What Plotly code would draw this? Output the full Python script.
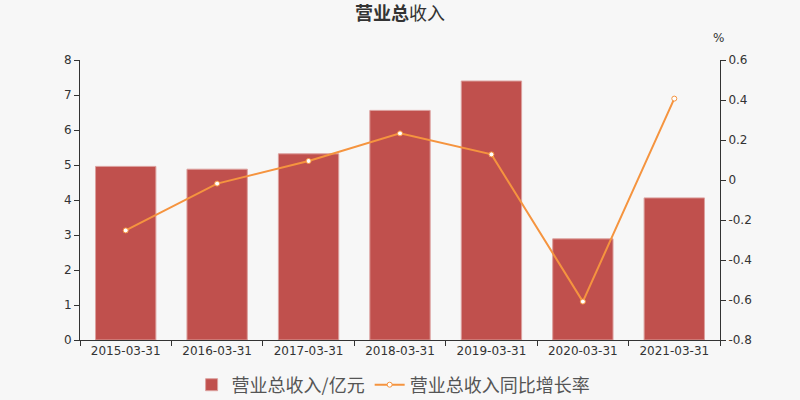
import plotly.graph_objects as go

categories = ["2015-03-31", "2016-03-31", "2017-03-31", "2018-03-31", "2019-03-31", "2020-03-31", "2021-03-31"]
revenue = [4.96, 4.88, 5.32, 6.56, 7.40, 2.89, 4.06]
growth = [-0.252, -0.018, 0.095, 0.233, 0.128, -0.608, 0.407]
left_ticks = [0, 1, 2, 3, 4, 5, 6, 7, 8]
right_ticks = [0.6, 0.4, 0.2, 0, -0.2, -0.4, -0.6, -0.8]

cjk = "Noto Sans CJK SC"
num_font = "DejaVu Sans"
axis_col = "#333333"

fig = go.Figure()
fig.add_trace(go.Bar(
    x=categories, y=revenue, name="营业总收入/亿元",
    marker=dict(color="#c0504d", line=dict(color="#dca09e", width=1)),
    yaxis="y",
))
fig.add_trace(go.Scatter(
    x=categories, y=growth, name="营业总收入同比增长率",
    mode="lines+markers",
    line=dict(color="#f5943f", width=2),
    marker=dict(size=5, color="#ffffff", line=dict(color="#f5943f", width=1)),
    yaxis="y2",
))

fig.update_layout(
    width=800, height=400,
    paper_bgcolor="#f7f7f7", plot_bgcolor="#f7f7f7",
    margin=dict(l=80, r=80, t=60, b=60, autoexpand=False),
    bargap=0.34,
    title=dict(text="<b>营业总</b>收入", x=0.5, xanchor="center", y=0.967, yanchor="middle",
               font=dict(family=cjk, size=18, color="#333333")),
    xaxis=dict(type="category", showline=True, linecolor=axis_col, linewidth=1,
               ticks="outside", tickson="boundaries", ticklen=5, tickcolor=axis_col,
               tickfont=dict(family=num_font, size=12, color=axis_col), showgrid=False),
    yaxis=dict(range=[0, 8], tickvals=left_ticks, showline=True, linecolor=axis_col, linewidth=1,
               ticks="outside", ticklen=5, tickcolor=axis_col, showgrid=False, zeroline=False,
               tickfont=dict(family=num_font, size=12, color=axis_col)),
    yaxis2=dict(range=[-0.8, 0.6], tickvals=right_ticks, ticktext=[str(t) for t in right_ticks],
                overlaying="y", side="right", showline=True, linecolor=axis_col, linewidth=1,
                ticks="outside", ticklen=5, tickcolor=axis_col, showgrid=False, zeroline=False,
                tickfont=dict(family=num_font, size=12, color=axis_col)),
    legend=dict(orientation="h", x=0.49, xanchor="center", yref="container", y=0.0375, yanchor="middle",
                font=dict(family=cjk, size=18, color="#555555"), bgcolor="rgba(0,0,0,0)"),
    showlegend=True,
    annotations=[dict(text="%", xref="paper", yref="paper", x=0.997, y=1.079, showarrow=False,
                      xanchor="center", yanchor="middle",
                      font=dict(family=num_font, size=12, color=axis_col))],
)

fig.write_html("out.html", config={"displayModeBar": False},
               post_script="document.body.style.margin='0';")
